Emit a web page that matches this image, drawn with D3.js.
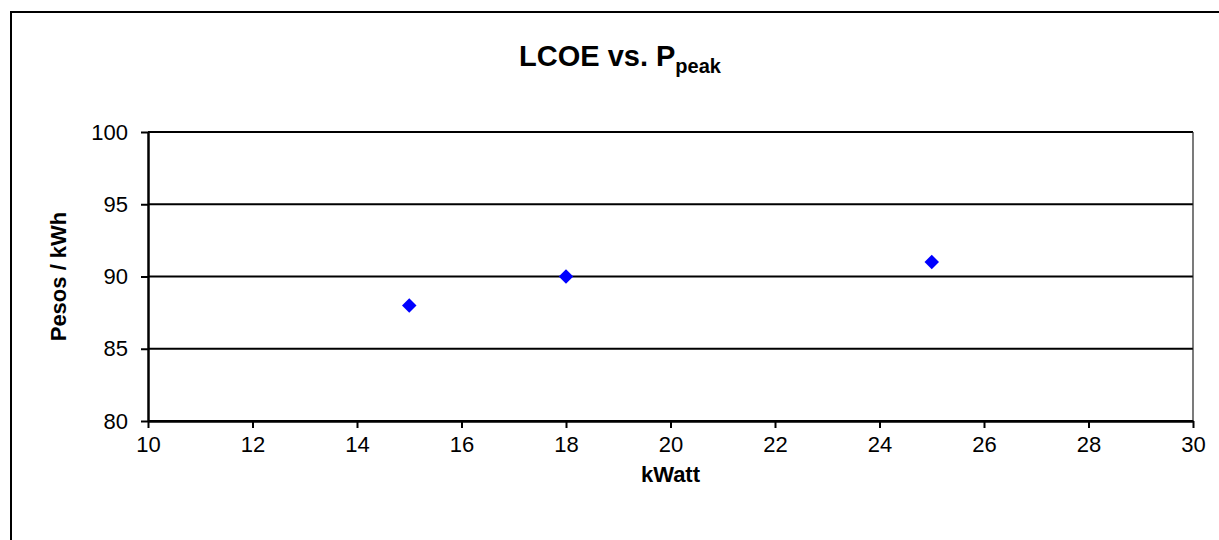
<!DOCTYPE html>
<html>
<head>
<meta charset="utf-8">
<script src="https://cdn.jsdelivr.net/npm/d3@7"></script>
<style>
  html, body { margin: 0; background: #fff; overflow: hidden; }
  svg { display: block; }
  text { font-family: "Liberation Sans", Arial, sans-serif; }
</style>
</head>
<body>
<script>
// Data
const kwatt = [15, 18, 25];
const pesos = [88, 90, 91];
const xTicks = [10, 12, 14, 16, 18, 20, 22, 24, 26, 28, 30];
const yTicks = [80, 85, 90, 95, 100];

const width = 1219;
const height = 540;
const margin = { top: 132, right: 26, bottom: 119, left: 148 };
const plotW = width - margin.left - margin.right;
const plotH = height - margin.top - margin.bottom;

const svg = d3.select("body").append("svg")
    .attr("width", width)
    .attr("height", height);

// outer chart border (runs off the right and bottom of the picture)
svg.append("rect")
    .attr("x", 11).attr("y", 12)
    .attr("width", width + 20).attr("height", height + 20)
    .attr("fill", "none")
    .attr("stroke", "#000")
    .attr("stroke-width", 2);

const xScale = d3.scaleLinear().domain([10, 30]).range([0, plotW]);
const yScale = d3.scaleLinear().domain([80, 100]).range([plotH, 0]);

const g = svg.append("g")
    .attr("transform", `translate(${margin.left},${margin.top})`);

// gridlines
g.selectAll("line.grid")
    .data(yTicks)
    .enter().append("line")
    .attr("class", "grid")
    .attr("x1", 0).attr("x2", plotW)
    .attr("y1", d => yScale(d)).attr("y2", d => yScale(d))
    .attr("stroke", "#000")
    .attr("stroke-width", 2);

// right edge of plot area
g.append("line")
    .attr("x1", plotW).attr("x2", plotW)
    .attr("y1", 0).attr("y2", plotH)
    .attr("stroke", "#222")
    .attr("stroke-width", 1.2);

// axes
const xAxis = g.append("g")
    .attr("transform", `translate(0,${plotH})`)
    .call(d3.axisBottom(xScale).tickValues(xTicks).tickSize(7).tickSizeOuter(0).tickPadding(8));
const yAxis = g.append("g")
    .call(d3.axisLeft(yScale).tickValues(yTicks).tickSize(7).tickSizeOuter(0).tickPadding(13));

[xAxis, yAxis].forEach(ax => {
    ax.selectAll("path").attr("stroke", "#000").attr("stroke-width", 2.5);
    ax.selectAll("line").attr("stroke", "#000").attr("stroke-width", 2);
    ax.selectAll("text")
        .attr("font-size", 22)
        .attr("fill", "#000")
        .style("font-family", "'Liberation Sans', Arial, sans-serif");
});

// points (diamonds)
g.selectAll("path.pt")
    .data(kwatt)
    .enter().append("path")
    .attr("class", "pt")
    .attr("d", d3.symbol().type(d3.symbolSquare).size(105))
    .attr("transform", (d, i) => `translate(${xScale(d)},${yScale(pesos[i])}) rotate(45)`)
    .attr("fill", "#0000ff");

// title
const title = svg.append("text")
    .attr("x", 620)
    .attr("y", 66)
    .attr("text-anchor", "middle")
    .attr("font-size", 29)
    .attr("font-weight", "bold");
title.append("tspan").text("LCOE vs. P");
title.append("tspan")
    .attr("dy", 7)
    .attr("font-size", 20)
    .text("peak");

// axis titles
svg.append("text")
    .attr("x", margin.left + plotW / 2)
    .attr("y", 482)
    .attr("text-anchor", "middle")
    .attr("font-size", 22)
    .attr("font-weight", "bold")
    .text("kWatt");

svg.append("text")
    .attr("transform", `translate(66,${margin.top + plotH / 2}) rotate(-90)`)
    .attr("text-anchor", "middle")
    .attr("font-size", 22)
    .attr("font-weight", "bold")
    .text("Pesos / kWh");
</script>
</body>
</html>
